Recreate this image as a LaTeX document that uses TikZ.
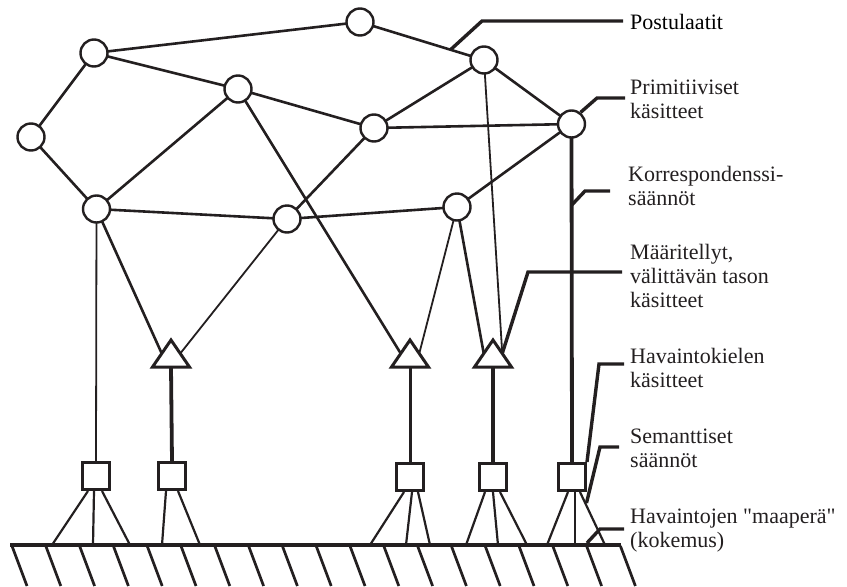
\documentclass[tikz,border=0pt]{standalone}
\usepackage{fontspec}
\setmainfont{Liberation Serif}
% a family without TeX ligatures, so that " stays a straight quote
\newfontfamily\labelfont{Liberation Serif}
\usetikzlibrary{calc}
\definecolor{ink}{HTML}{231F20}
\tikzset{
  concept/.style={circle, draw=ink, line width=2.4pt, minimum size=27pt, inner sep=0pt, fill=white},
  obsbox/.style={rectangle, draw=ink, line width=3pt, minimum size=27pt, inner sep=0pt, fill=white},
  edge/.style={draw=ink, line width=2.6pt},
  thinedge/.style={draw=ink, line width=1.8pt},
  heavy/.style={draw=ink, line width=3.8pt},
  fanline/.style={draw=ink, line width=2.2pt},
  leader/.style={draw=ink, line width=3.4pt},
  tri/.style={draw=ink, line width=3pt, fill=white, line join=miter},
  hatch/.style={draw=ink, line width=2.7pt},
  label/.style={anchor=west, align=left, text=ink, font=\labelfont\fontsize{22}{24}\selectfont, inner sep=0pt},
}
\begin{document}
\begin{tikzpicture}[x=1pt, y=-1pt]
\useasboundingbox (0,0) rectangle (847,587);

% ground and hatching
\draw[ink, line width=3.6pt] (10,545) -- (621,545);
\foreach \k in {0,...,18} {
  \draw[hatch] ({12+33.8*\k},546) -- ({27+33.8*\k},586);
}

% triangle reference points (apex at top)
\foreach \n/\x in {T1/171, T3/410, T4/493} {
  \coordinate (\n) at (\x,353.5);
  \coordinate (\n top) at (\x,340);
  \coordinate (\n base) at (\x,367);
  \coordinate (\n L) at (\x-9.25,353.5);
  \coordinate (\n R) at (\x+9.25,353.5);
}

% observation-language boxes
\node[obsbox] (S1) at (96,476) {};
\node[obsbox] (S2) at (172,476) {};
\node[obsbox] (S3) at (410,477) {};
\node[obsbox] (S4) at (493,477) {};
\node[obsbox] (S5) at (572,477) {};

% primitive concepts
\coordinate (pA) at (94,53);
\coordinate (pB) at (360,22);
\coordinate (pC) at (31,137);
\coordinate (pD) at (238,89);
\coordinate (pE) at (374,128);
\coordinate (pF) at (96.5,209);
\coordinate (pG) at (287,219);
\coordinate (pH) at (484,60);
\coordinate (pI) at (571.5,124);
\coordinate (pJ) at (457,207);

% connections between concepts (drawn under the circles)
\draw[edge] (pA) -- (pB);
\draw[edge] (pA) -- (pC);
\draw[edge] (pA) -- (pD);
\draw[edge] (pC) -- (pF);
\draw[edge] (pF) -- (pD);
\draw[edge] (pD) -- (pE);
\draw[edge] (pE) -- (pG);
\draw[edge] (pE) -- (pH);
\draw[edge] (pE) -- (pI);
\draw[edge] (pB) -- (pH);
\draw[edge] (pH) -- (pI);
\draw[edge] (pI) -- (pJ);
\draw[edge] (pF) -- (pG);
\draw[edge] (pG) -- (pJ);

% links down to the defined concepts
\draw[edge] (pD) -- (T3L);
\draw[edge] (pF) -- (T1L);
\draw[edge] (pJ) -- (T4L);
\draw[thinedge] (pG) -- (T1R);
\draw[thinedge] (pJ) -- (T3R);
\draw[thinedge] (pH) -- (T4R);
\draw[thinedge] (pF) -- (S1.north);

% correspondence rule
\draw[heavy] (pI) -- (S5.north);

% defined concepts
\foreach \n in {T1, T3, T4} {
  \draw[tri] (\n top) -- ([xshift=18.5pt]\n base) -- ([xshift=-18.5pt]\n base) -- cycle;
}
\draw[heavy] (T1base) -- (S2.north);
\draw[edge, line width=3pt] (T3base) -- (S3.north);
\draw[edge, line width=3.4pt] (T4base) -- (S4.north);

% circles on top
\foreach \n in {A,B,C,D,E,F,G,H,I,J} {
  \node[concept] (\n) at (p\n) {};
}

% semantic rules: fans from boxes to the ground
\draw[fanline] ([xshift=-8pt]S1.south) -- (52,545);
\draw[fanline] ([xshift=-2pt]S1.south) -- (93,545);
\draw[fanline] ([xshift=6pt]S1.south) -- (130,545);
\draw[fanline] ([xshift=-6pt]S2.south) -- (162,545);
\draw[fanline] ([xshift=6pt]S2.south) -- (200,545);
\draw[fanline] ([xshift=-6pt]S3.south) -- (370,545);
\draw[fanline] ([xshift=2pt]S3.south) -- (406,545);
\draw[fanline] ([xshift=8pt]S3.south) -- (430,545);
\draw[fanline] ([xshift=-8pt]S4.south) -- (466,545);
\draw[fanline] ([xshift=0pt]S4.south) -- (498,545);
\draw[fanline] ([xshift=7pt]S4.south) -- (527,545);
\draw[fanline] ([xshift=-4pt]S5.south) -- (547,545);
\draw[fanline] ([xshift=3pt]S5.south) -- (575,545);
\draw[fanline] ([xshift=8pt]S5.south) -- (605,545);

% labels and their leader lines
\node[label, text=black] (Lpost) at (630,22) {Postulaatit};
\draw[leader] ($(B)!0.73!(H)$) -- (482,21) -- (623,21);

\node[label] (Lprim) at (630,99) {Primitiiviset\\käsitteet};
\draw[leader] (I.52) -- (597,98) -- (625,98);

\node[label] (Lkorr) at (628,186) {Korrespondenssi-\\säännöt};
\draw[leader] ($(I)!0.23!(S5)$) -- (585,191) -- (610,191);

\node[label] (Lmaar) at (630,276) {Määritellyt,\\välittävän tason\\käsitteet};
\draw[leader] (T4R) -- (528,272) -- (622,272);

\node[label] (Lhav) at (630,368) {Havaintokielen\\käsitteet};
\draw[leader] (S5.north east) -- (599,364) -- (624,364);

\node[label] (Lsem) at (630,448) {Semanttiset\\säännöt};
\draw[leader] (586.5,503) -- (600,447) -- (619,447);

\node[label] (Lmaa) at (630,531) {Havaintojen "maaperä"\\(kokemus)};
\draw[leader] (587,543) -- (600,529) -- (624,529);
\end{tikzpicture}
\end{document}
